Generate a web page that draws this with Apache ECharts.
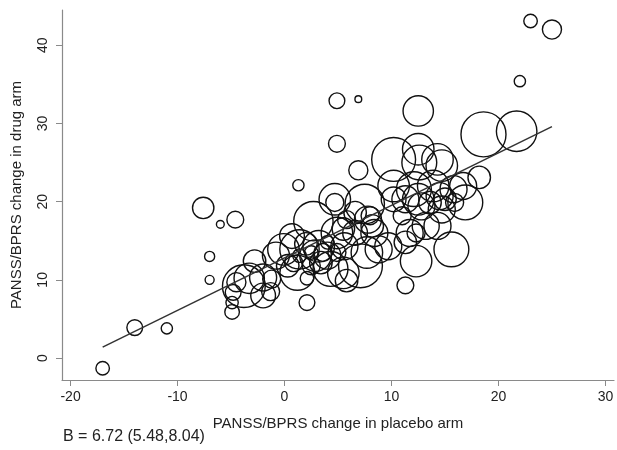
<!DOCTYPE html>
<html>
<head>
<meta charset="utf-8">
<script src="https://cdn.jsdelivr.net/npm/echarts@6/dist/echarts.min.js"></script>
<style>html,body{margin:0;padding:0;background:#fff}#c{width:617px;height:450px}</style>
</head>
<body>
<div id="c"></div>
<script>
// Study-level data: change in placebo arm (x), change in drug arm (y), study weight (w)
var placeboChange = [
  -17.0,-14.0,-11.0,-7.6,-6.0,-4.6,-7.0,-7.0,1.3,4.9,
  6.9,4.9,6.9,12.5,23.0,25.0,22.0,18.6,21.7,11.3,
  2.1,-4.9,-4.9,-4.8,-3.8,-3.3,-2.8,-2.0,-1.3,-2.0,
  1.4,-0.1,1.2,2.1,2.9,2.7,0.7,2.0,3.2,4.0,
  3.4,4.3,5.5,5.8,4.7,4.7,4.9,5.6,7.5,7.7,
  7.1,7.8,8.0,8.2,8.4,6.6,8.8,9.7,10.2,10.2,
  10.2,11.3,11.7,12.3,12.5,12.6,12.5,12.1,12.8,13.6,
  13.9,14.3,14.7,14.5,14.7,14.3,13.2,15.6,15.8,16.9,
  16.7,18.2,15.9,15.0,11.3,11.0,12.3,-0.8,0.85,1.4,
  2.5,2.5,3.6,4.0,4.9,5.5,5.8,6.6,0.3,-1.2,
  -4.5];
var drugChange = [
  -1.3,3.9,3.8,19.2,17.1,17.7,13.0,10.0,22.1,32.9,
  33.1,27.4,24.0,31.6,43.1,42.0,35.4,28.6,29.0,9.3,
  7.1,5.9,7.1,8.4,9.2,10.2,12.4,8.0,8.5,10.3,
  13.9,13.9,10.9,10.2,13.1,17.5,15.6,14.6,14.3,13.1,
  12.2,11.4,10.9,9.9,20.3,19.9,16.0,14.3,19.7,13.5,
  11.8,17.7,18.2,16.9,16.0,16.0,13.9,14.3,25.4,22.0,
  20.3,14.8,16.0,12.4,26.7,25.0,20.3,21.6,19.4,19.9,
  22.0,25.4,24.6,20.7,19.0,16.9,16.9,13.9,21.6,19.9,
  22.0,23.1,19.9,20.3,20.3,18.2,16.0,13.1,12.2,13.1,
  13.5,11.8,13.5,14.8,13.5,16.5,17.7,18.6,11.8,10.1,
  9.7];
var weights = [
  36,49,25,90,12,56,20,16,25,49,
  9,56,72,182,36,72,25,400,324,56,
  49,42,30,49,361,182,100,121,64,144,
  306,196,240,36,196,306,121,100,196,144,
  100,240,196,100,196,64,196,144,306,196,
  380,144,64,100,144,121,144,144,380,196,
  121,100,144,196,196,240,196,240,144,100,
  196,196,196,144,144,144,144,240,144,240,
  144,100,64,100,144,64,64,144,64,36,
  36,64,64,36,64,100,64,100,100,64,
  72];
// Fitted regression line end points
var fitX = [-17, 25];
var fitY = [1.4, 29.6];
var xTicks = [-20, -10, 0, 10, 20, 30];
var yTicks = [0, 10, 20, 30, 40];
var xTitle = 'PANSS/BPRS change in placebo arm';
var yTitle = 'PANSS/BPRS change in drug arm';
var note = 'B = 6.72 (5.48,8.04)';

var pts = placeboChange.map(function (x, i) { return [x, drugChange[i], weights[i]]; });
var fitPts = fitX.map(function (x, i) { return [x, fitY[i]]; });

var chart = echarts.init(document.getElementById('c'), null, {renderer: 'canvas'});
var font = 'Liberation Sans, Arial, sans-serif';
chart.setOption({
  animation: false,
  backgroundColor: '#fff',
  grid: {left: 62, right: 3, top: 10, bottom: 70},
  xAxis: {
    type: 'value', min: -20.8, max: 30.8,
    name: xTitle, nameLocation: 'middle', nameGap: 36,
    nameTextStyle: {fontFamily: font, fontSize: 15, color: '#222'},
    axisLine: {show: true, onZero: false, lineStyle: {color: '#8a8a8a', width: 1.2}},
    axisTick: {show: true, customValues: xTicks, length: 6, lineStyle: {color: '#8a8a8a'}},
    axisLabel: {customValues: xTicks, margin: 10, fontFamily: font, fontSize: 14, color: '#222'},
    splitLine: {show: false}
  },
  yAxis: {
    type: 'value', min: -2.8, max: 44.5,
    name: yTitle, nameLocation: 'middle', nameGap: 38,
    nameTextStyle: {fontFamily: font, fontSize: 15, color: '#222'},
    axisLine: {show: true, onZero: false, lineStyle: {color: '#8a8a8a', width: 1.2}},
    axisTick: {show: true, customValues: yTicks, length: 6, lineStyle: {color: '#8a8a8a'}},
    axisLabel: {customValues: yTicks, rotate: 90, margin: 12, fontFamily: font, fontSize: 14, color: '#222'},
    splitLine: {show: false}
  },
  series: [
    {
      type: 'scatter', data: pts, z: 2,
      symbol: 'circle',
      symbolSize: function (v) { return 2.25 * Math.sqrt(v[2]); },
      itemStyle: {color: 'rgba(0,0,0,0)', borderColor: '#111', borderWidth: 1.4, opacity: 1},
      emphasis: {disabled: true}, silent: true
    },
    {
      type: 'line', data: fitPts, z: 3, symbol: 'none',
      lineStyle: {color: '#333', width: 1.5}, silent: true
    }
  ],
  graphic: [{
    type: 'text', left: 63, top: 429,
    style: {text: note, font: '16px ' + font, fill: '#222'}
  }]
});
</script>
</body>
</html>
